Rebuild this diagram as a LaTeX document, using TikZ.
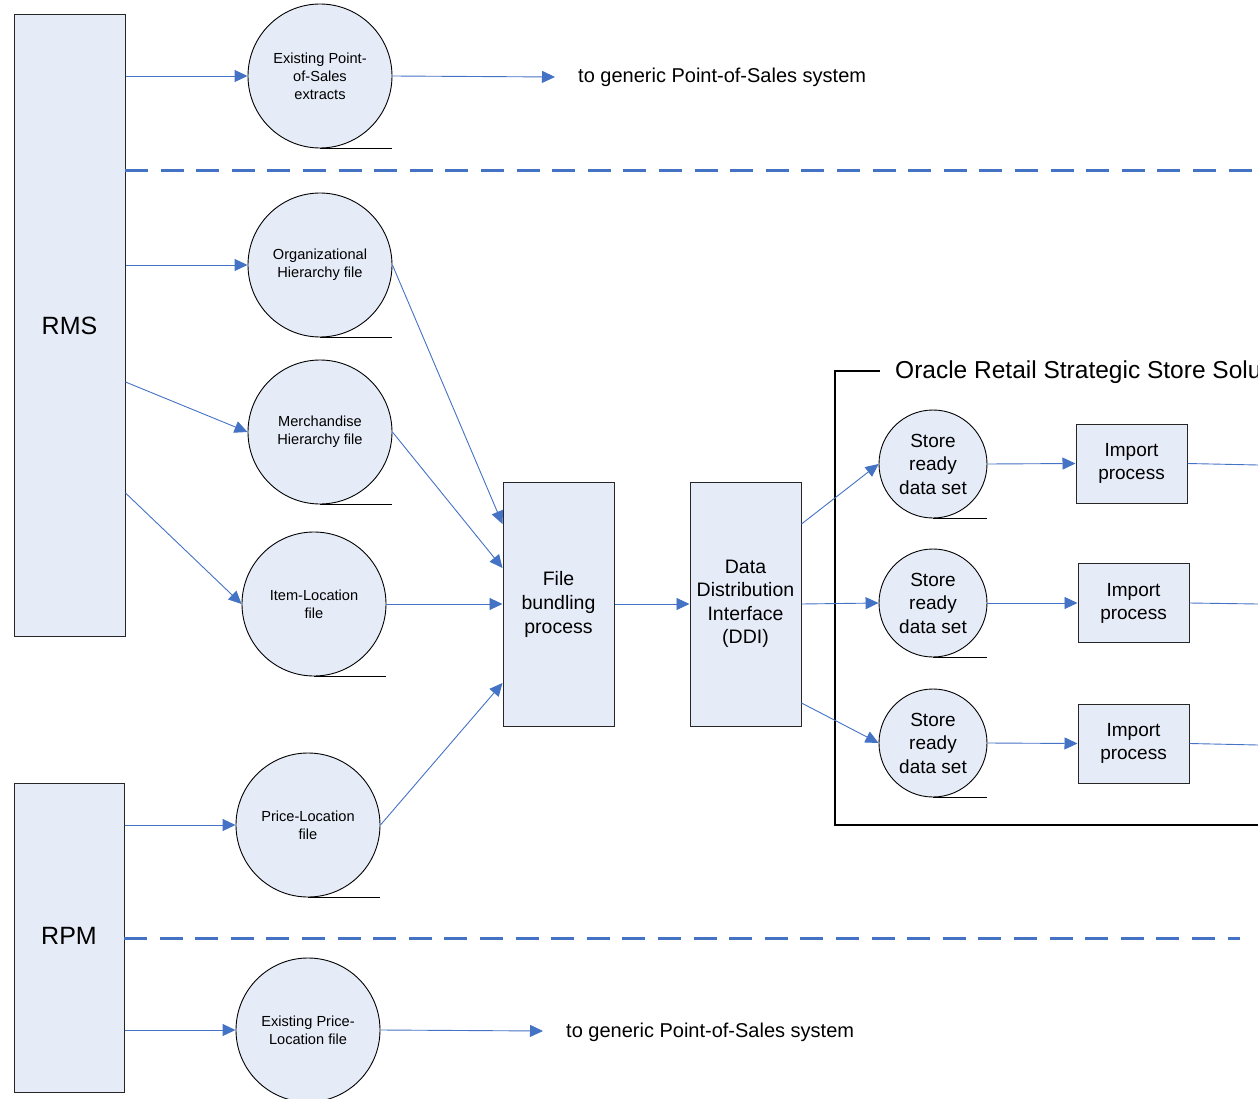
\documentclass[tikz,border=0pt]{standalone}
\usepackage{fontspec}
\setmainfont{Liberation Sans}
\usetikzlibrary{arrows.meta}
\definecolor{fillb}{RGB}{230,236,247}
\definecolor{lineb}{RGB}{68,114,196}
\tikzset{
  sysbox/.style={draw=black!85, line width=1pt, fill=fillb, inner sep=0pt},
  fileC/.style={circle, draw=black, line width=0.9pt, fill=fillb, inner sep=0pt, minimum size=144pt, align=center, font=\fontsize{14.6}{18}\selectfont},
  storeC/.style={circle, draw=black, line width=0.9pt, fill=fillb, inner sep=0pt, minimum size=108pt, align=center, font=\fontsize{19}{23.5}\selectfont},
  arr/.style={draw=lineb, line width=0.9pt, -{Triangle[length=13pt,width=12pt]}},
  plain/.style={draw=lineb, line width=0.9pt},
  sep/.style={draw=lineb, line width=3pt, dash pattern=on 23pt off 12.6pt},
  tail/.style={draw=black, line width=0.9pt},
  lbl/.style={anchor=west, inner sep=0pt, font=\fontsize{20}{24}\selectfont}
}
\begin{document}
\begin{tikzpicture}[x=1pt,y=-1pt]
\useasboundingbox (0,0) rectangle (1258,1099);
\clip (0,0) rectangle (1258,1099);
% systems
\node[sysbox, minimum width=111pt, minimum height=621pt, font=\fontsize{25}{30}\selectfont] (rms) at (69.5,325.5) {RMS};
\node[sysbox, minimum width=110pt, minimum height=309pt] (rpm) at (69,937.5) {};
\node[font=\fontsize{25}{30}\selectfont] (rpmlbl) at (69,936) {RPM};
% file circles
\node[fileC] (c1) at (320,76) {Existing Point-\\of-Sales\\extracts};
\node[fileC] (c2) at (320,265) {Organizational\\Hierarchy file};
\node[fileC] (c3) at (320,432) {Merchandise\\Hierarchy file};
\node[fileC] (c4) at (314,604) {Item-Location\\file};
\node[fileC] (c5) at (308,825) {Price-Location\\file};
\node[fileC] (c6) at (308,1030) {Existing Price-\\Location file};
\foreach \c in {c1,c2,c3,c4,c5,c6}{\draw[tail] (\c.south) -- (\c.south -| \c.east);}
% separators
\coordinate (d1a) at (125,171); \coordinate (d1b) at (1258,171);
\coordinate (d2a) at (124,938); \coordinate (d2b) at (1240,938);
\draw[sep] (d1a) -- (d1b);
\draw[sep] (d2a) -- (d2b);
% outside targets
\node[lbl] (pos1) at (578,77) {to generic Point-of-Sales system};
\node[lbl] (pos2) at (566,1032) {to generic Point-of-Sales system};
\coordinate (t1) at (555,77);
\coordinate (t2) at (543,1031);
% processing boxes
\node[sysbox, minimum width=111pt, minimum height=244pt, align=center, font=\fontsize{19.5}{24}\selectfont] (fb) at (558.5,604) {File\\bundling\\process};
\node[sysbox, minimum width=111pt, minimum height=244pt, align=center, font=\fontsize{19.5}{23.5}\selectfont] (ddi) at (745.5,604) {Data\\Distribution\\Interface\\(DDI)};
% store frame
\coordinate (fr1) at (880,371); \coordinate (fr2) at (835,371);
\coordinate (fr3) at (835,825); \coordinate (fr4) at (1258,825);
\draw[black, line width=1.3pt] (fr1) -- (fr2) -- (fr3) -- (fr4);
\node[anchor=west, font=\fontsize{24.5}{28}\selectfont, inner sep=0pt] (orss) at (895,372) {Oracle Retail Strategic Store Solutions};
\node[storeC] (s1) at (933,464) {Store\\ready\\data set};
\node[storeC] (s2) at (933,603) {Store\\ready\\data set};
\node[storeC] (s3) at (933,743) {Store\\ready\\data set};
\foreach \c in {s1,s2,s3}{\draw[tail] (\c.south) -- (\c.south -| \c.east);}
\node[sysbox, minimum width=111pt, minimum height=79pt, align=center, font=\fontsize{19}{23}\selectfont] (i1) at (1131.5,463.5) {Import\\process};
\node[sysbox, minimum width=111pt, minimum height=79pt, align=center, font=\fontsize{19}{23}\selectfont] (i2) at (1133.5,603) {Import\\process};
\node[sysbox, minimum width=111pt, minimum height=79pt, align=center, font=\fontsize{19}{23}\selectfont] (i3) at (1133.5,743.5) {Import\\process};
\coordinate (e1) at (1258,465); \coordinate (e2) at (1258,604); \coordinate (e3) at (1258,745);
% connectors
\draw[arr] (rms.east |- c1) -- (c1.west);
\draw[arr] (c1.east) -- (t1);
\draw[arr] (rms.east |- c2) -- (c2.west);
\draw[arr] ([yshift=-56.5pt]rms.east) -- (c3.west);
\draw[arr] ([yshift=-167.5pt]rms.east) -- (c4.west);
\draw[arr] (rpm.east |- c5) -- (c5.west);
\draw[arr] (rpm.east |- c6) -- (c6.west);
\draw[arr] (c6.east) -- (t2);
\draw[arr] (c2.east) -- ([yshift=80pt]fb.west);
\draw[arr] (c3.east) -- ([yshift=36pt]fb.west);
\draw[arr] (c4.east) -- (fb.west);
\draw[arr] (c5.east) -- ([yshift=-79pt]fb.west);
\draw[arr] (fb.east) -- (ddi.west);
\draw[arr] ([yshift=80pt]ddi.east) -- (s1.west);
\draw[arr] (ddi.east) -- (s2.west);
\draw[arr] ([yshift=-99pt]ddi.east) -- (s3.west);
\draw[arr] (s1.east) -- (i1.west);
\draw[arr] (s2.east) -- (i2.west);
\draw[arr] (s3.east) -- (i3.west);
\draw[plain] (i1.east) -- (e1);
\draw[plain] (i2.east) -- (e2);
\draw[plain] (i3.east) -- (e3);
\end{tikzpicture}
\end{document}
